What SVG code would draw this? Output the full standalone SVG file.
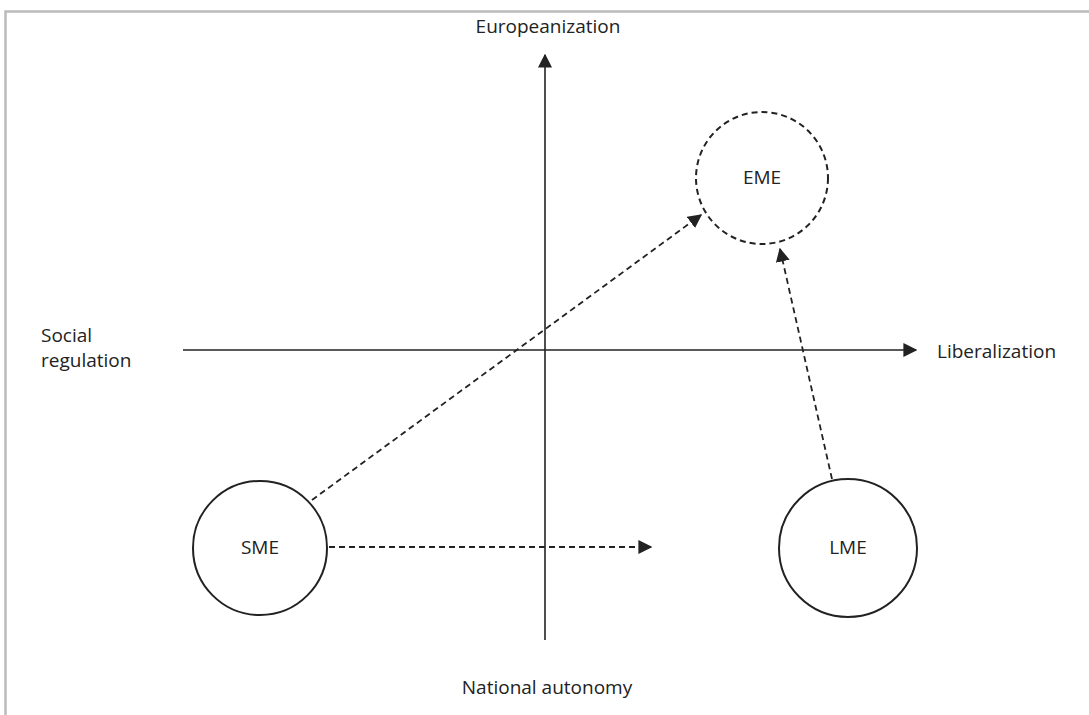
<svg xmlns="http://www.w3.org/2000/svg" width="1089" height="715" viewBox="0 0 1089 715">
<style>
text{font-family:"Open Sans","Noto Sans",sans-serif;font-size:19px;fill:#222}
.axis{stroke:#222;stroke-width:1.6;fill:none}
.dash{stroke:#222;stroke-width:1.8;fill:none;stroke-dasharray:6 4}
.node{fill:#fff;stroke:#222;stroke-width:2}
</style>
<defs>
<marker id="ah" viewBox="0 0 10 10" refX="9" refY="5" markerWidth="14" markerHeight="14" markerUnits="userSpaceOnUse" orient="auto">
<path d="M0,0 L10,5 L0,10 z" fill="#222"/>
</marker>
</defs>
<rect width="1089" height="715" fill="#fff"/>
<path d="M5.5,715 V11.5 H1089" stroke="#bbb" stroke-width="2.5" fill="none"/>
<g id="axes">
<line class="axis" x1="545" y1="640" x2="545" y2="55" marker-end="url(#ah)"/>
<line class="axis" x1="183" y1="350" x2="916" y2="350" marker-end="url(#ah)"/>
</g>
<g id="connectors">
<line class="dash" x1="312" y1="500" x2="701" y2="215" marker-end="url(#ah)"/>
<line class="dash" x1="329" y1="547" x2="651" y2="547" marker-end="url(#ah)"/>
<line class="dash" x1="832" y1="479" x2="780" y2="249" marker-end="url(#ah)"/>
</g>
<g id="EME">
<circle cx="762" cy="178" r="66" fill="#fff" stroke="#222" stroke-width="2" stroke-dasharray="6 4"/>
<text x="762" y="184" text-anchor="middle">EME</text>
</g>
<g id="SME">
<circle class="node" cx="260" cy="548" r="67"/>
<text x="260" y="554" text-anchor="middle">SME</text>
</g>
<g id="LME">
<circle class="node" cx="848" cy="548" r="69"/>
<text x="848" y="554" text-anchor="middle">LME</text>
</g>
<g id="labels">
<text x="548" y="33" text-anchor="middle">Europeanization</text>
<text x="41" y="342">Social</text>
<text x="41" y="367">regulation</text>
<text x="937" y="358">Liberalization</text>
<text x="547" y="694" text-anchor="middle">National autonomy</text>
</g>
</svg>
